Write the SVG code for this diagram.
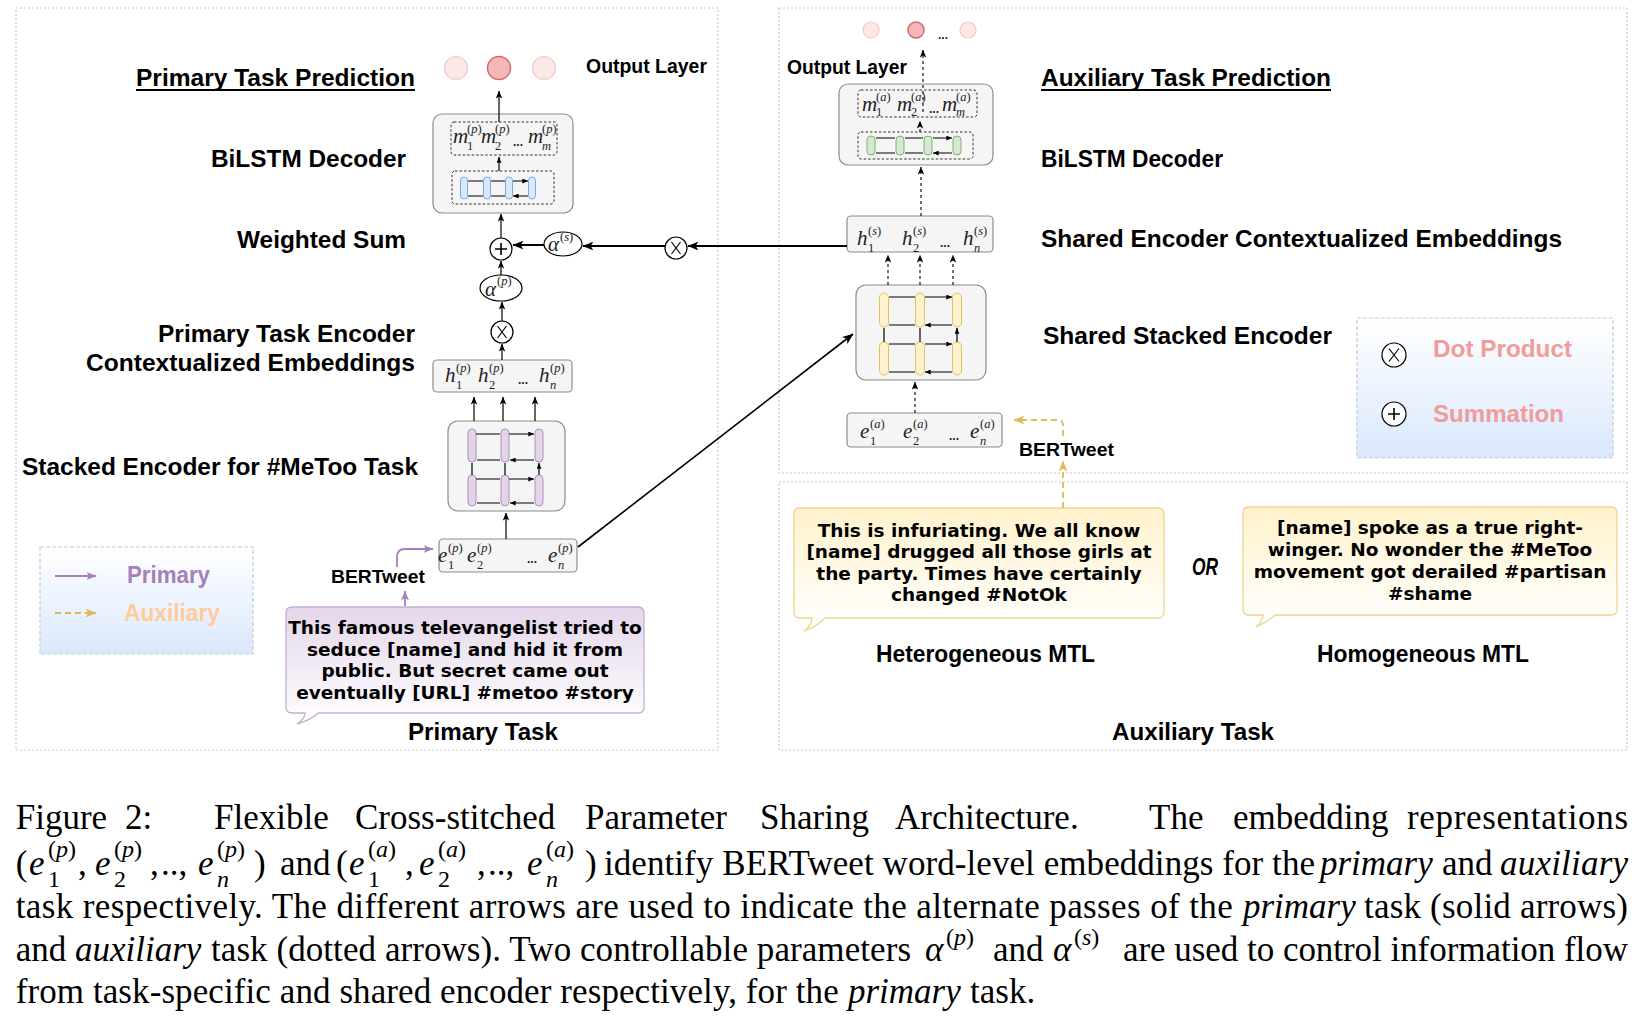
<svg xmlns="http://www.w3.org/2000/svg" width="1638" height="1034" viewBox="0 0 1638 1034">
<defs>
<style>
.lbl{font-family:"Liberation Sans",Arial,sans-serif;font-weight:bold;font-size:24px;fill:#000}
.ol{font-size:20px}
.bt{font-size:19px}
.tw{font-family:"DejaVu Sans",sans-serif;font-weight:bold;font-size:18.5px;text-anchor:middle;fill:#000}
.mv{font-family:"Liberation Serif",serif;font-style:italic;font-size:21px;fill:#222}
.ms{font-family:"Liberation Serif",serif;font-size:12.5px;fill:#222}
.dots{font-family:"Liberation Sans",sans-serif;font-weight:bold;font-size:12px;fill:#222}
.cap{font-family:"Liberation Serif","Times New Roman",serif;font-size:35px;fill:#000}
.ci{font-style:italic}
.cs{font-size:24px;font-style:normal}
.panel{fill:none;stroke:#c8c8c8;stroke-width:1.2;stroke-dasharray:2 2}
.box{fill:#f5f5f5;stroke:#8c8c8c;stroke-width:1.2}
.dbox{fill:none;stroke:#333;stroke-width:1;stroke-dasharray:2.5 2}
.cp{fill:#e1d5e7;stroke:#b08fc2;stroke-width:1}
.cb{fill:#dae8fc;stroke:#7ea6e0;stroke-width:1}
.cy{fill:#fff2cc;stroke:#e0c060;stroke-width:1}
.cg{fill:#d5e8d4;stroke:#82b366;stroke-width:1}
.ln{fill:none;stroke:#000;stroke-width:1.2}
.lnT{fill:none;stroke:#000;stroke-width:2}
.sm{fill:none;stroke:#000;stroke-width:1.2;marker-end:url(#as)}
.dl{fill:none;stroke:#000;stroke-width:1.1;stroke-dasharray:3 3}
.op{fill:#fff;stroke:#000;stroke-width:1.2}
.lt{fill:#fde8e8;stroke:#f6c6c6;stroke-width:1.2}
.dk{fill:#f4b6b6;stroke:#d46868;stroke-width:1.4}
</style>
<marker id="a" viewBox="0 0 10 8" refX="9.5" refY="4" markerWidth="8" markerHeight="6.4" orient="auto" markerUnits="userSpaceOnUse"><path d="M0,0 L10,4 L0,8 L2.5,4 z" fill="#000"/></marker>
<marker id="aL" viewBox="0 0 10 8" refX="9.5" refY="4" markerWidth="11" markerHeight="9" orient="auto" markerUnits="userSpaceOnUse"><path d="M0,0 L10,4 L0,8 L2.5,4 z" fill="#000"/></marker>
<marker id="as" viewBox="0 0 10 8" refX="9.5" refY="4" markerWidth="6" markerHeight="5" orient="auto" markerUnits="userSpaceOnUse"><path d="M0,0 L10,4 L0,8 z" fill="#000"/></marker>
<marker id="ap" viewBox="0 0 10 8" refX="9.5" refY="4" markerWidth="10" markerHeight="8" orient="auto" markerUnits="userSpaceOnUse"><path d="M0,0 L10,4 L0,8 L2.5,4 z" fill="#a680b8"/></marker>
<marker id="ay" viewBox="0 0 10 8" refX="9.5" refY="4" markerWidth="11" markerHeight="9" orient="auto" markerUnits="userSpaceOnUse"><path d="M0,0 L10,4 L0,8 L2.5,4 z" fill="#dcbb55"/></marker>
<linearGradient id="gp" x1="0" y1="0" x2="0" y2="1"><stop offset="0" stop-color="#e4d6ea"/><stop offset="1" stop-color="#ffffff"/></linearGradient>
<linearGradient id="gy" x1="0" y1="0" x2="0" y2="1"><stop offset="0" stop-color="#fff2cc"/><stop offset="1" stop-color="#ffffff"/></linearGradient>
<linearGradient id="gb" x1="0" y1="0" x2="0" y2="1"><stop offset="0" stop-color="#ffffff"/><stop offset="1" stop-color="#dae8fc"/></linearGradient>
</defs>
<rect width="1638" height="1034" fill="#fff"/>

<g id="panels">
<rect class="panel" x="16" y="8" width="702" height="742"/>
<rect class="panel" x="779" y="8" width="848" height="465"/>
<rect class="panel" x="779" y="482" width="848" height="268"/>
</g>

<g id="labels">
<text class="lbl" x="136" y="86" textLength="279" lengthAdjust="spacingAndGlyphs">Primary Task Prediction</text>
<line x1="136" y1="90" x2="415" y2="90" stroke="#000" stroke-width="2"/>
<text class="lbl ol" x="586" y="73" textLength="121" lengthAdjust="spacingAndGlyphs">Output Layer</text>
<text class="lbl" x="211" y="167" textLength="195" lengthAdjust="spacingAndGlyphs">BiLSTM Decoder</text>
<text class="lbl" x="237" y="248" textLength="169" lengthAdjust="spacingAndGlyphs">Weighted Sum</text>
<text class="lbl" x="158" y="342" textLength="257" lengthAdjust="spacingAndGlyphs">Primary Task Encoder</text>
<text class="lbl" x="86" y="371" textLength="329" lengthAdjust="spacingAndGlyphs">Contextualized Embeddings</text>
<text class="lbl" x="22" y="475" textLength="396" lengthAdjust="spacingAndGlyphs">Stacked Encoder for #MeToo Task</text>
<text class="lbl bt" x="331" y="583" textLength="94" lengthAdjust="spacingAndGlyphs">BERTweet</text>
<text class="lbl" x="408" y="740" textLength="150" lengthAdjust="spacingAndGlyphs">Primary Task</text>
<text class="lbl ol" x="787" y="74" textLength="120" lengthAdjust="spacingAndGlyphs">Output Layer</text>
<text class="lbl" x="1041" y="86" textLength="290" lengthAdjust="spacingAndGlyphs">Auxiliary Task Prediction</text>
<line x1="1041" y1="90" x2="1331" y2="90" stroke="#000" stroke-width="2"/>
<text class="lbl" x="1041" y="167" textLength="182" lengthAdjust="spacingAndGlyphs">BiLSTM Decoder</text>
<text class="lbl" x="1041" y="247" textLength="521" lengthAdjust="spacingAndGlyphs">Shared Encoder Contextualized Embeddings</text>
<text class="lbl" x="1043" y="344" textLength="289" lengthAdjust="spacingAndGlyphs">Shared Stacked Encoder</text>
<text class="lbl bt" x="1019" y="456" textLength="95" lengthAdjust="spacingAndGlyphs">BERTweet</text>
<text class="lbl" x="876" y="662" font-size="23" textLength="219" lengthAdjust="spacingAndGlyphs">Heterogeneous MTL</text>
<text class="lbl" x="1317" y="662" font-size="23" textLength="212" lengthAdjust="spacingAndGlyphs">Homogeneous MTL</text>
<text class="lbl" x="1112" y="740" textLength="162" lengthAdjust="spacingAndGlyphs">Auxiliary Task</text>
<text class="lbl" x="1192" y="575" font-size="19" font-style="italic" font-weight="normal" textLength="26" lengthAdjust="spacingAndGlyphs">OR</text>
</g>

<g id="output-primary">
<circle class="lt" cx="456" cy="68" r="11.5"/>
<circle class="dk" cx="499" cy="68" r="11.5"/>
<circle class="lt" cx="544" cy="68" r="11.5"/>
</g>
<g id="output-aux">
<circle class="lt" cx="871" cy="30" r="8"/>
<circle class="dk" cx="916" cy="30" r="8"/>
<circle class="lt" cx="968" cy="30" r="8"/>
<text class="dots" x="938" y="39" font-size="9">...</text>
</g>

<g id="decoder-primary">
<rect class="box" x="433" y="114" width="140" height="99" rx="9"/>
<rect class="dbox" x="451" y="122" width="106" height="33" rx="3"/>
<text class="mv" x="453" y="143" font-size="19">m</text><text class="ms" x="467" y="133">(<tspan font-style="italic">p</tspan>)</text><text class="ms" x="467" y="150">1</text>
<text class="mv" x="481" y="143" font-size="19">m</text><text class="ms" x="495" y="133">(<tspan font-style="italic">p</tspan>)</text><text class="ms" x="495" y="150">2</text>
<text class="dots" x="513" y="146">...</text>
<text class="mv" x="528" y="143" font-size="19">m</text><text class="ms" x="542" y="133">(<tspan font-style="italic">p</tspan>)</text><text class="ms" x="542" y="150" font-style="italic">m</text>
<rect class="dbox" x="452" y="171" width="102" height="33" rx="3"/>
<rect class="cb" x="460.5" y="177" width="7" height="22" rx="3.5"/>
<rect class="cb" x="483.5" y="177" width="7" height="22" rx="3.5"/>
<rect class="cb" x="505.5" y="177" width="7" height="22" rx="3.5"/>
<rect class="cb" x="528.5" y="177" width="7" height="22" rx="3.5"/>
<path class="sm" d="M468 181 H483 M491 181 H505 M513 181 H528"/>
<path class="sm" d="M483 196 H468 M505 196 H491 M528 196 H513"/>
<path class="sm" d="M499 171 V157"/>
</g>

<g id="primary-ctx">
<rect class="box" x="433" y="360" width="139" height="32" rx="4"/>
<text class="mv" x="445" y="382">h</text><text class="ms" x="456" y="372">(<tspan font-style="italic">p</tspan>)</text><text class="ms" x="456" y="389">1</text>
<text class="mv" x="478" y="382">h</text><text class="ms" x="489" y="372">(<tspan font-style="italic">p</tspan>)</text><text class="ms" x="489" y="389">2</text>
<text class="dots" x="518" y="384">...</text>
<text class="mv" x="539" y="382">h</text><text class="ms" x="550" y="372">(<tspan font-style="italic">p</tspan>)</text><text class="ms" x="550" y="389" font-style="italic">n</text>
</g>

<g id="primary-encoder">
<rect class="box" x="448" y="421" width="117" height="90" rx="10"/>
<rect class="cp" x="468" y="429" width="8" height="33" rx="4"/>
<rect class="cp" x="501" y="429" width="8" height="33" rx="4"/>
<rect class="cp" x="535" y="429" width="8" height="33" rx="4"/>
<rect class="cp" x="468" y="475" width="8" height="31" rx="4"/>
<rect class="cp" x="501" y="475" width="8" height="31" rx="4"/>
<rect class="cp" x="535" y="475" width="8" height="31" rx="4"/>
<path class="sm" d="M476 434 H500 M509 434 H534"/>
<path class="sm" d="M500 460 H477 M534 460 H510"/>
<path class="sm" d="M476 479 H500 M509 479 H534"/>
<path class="sm" d="M500 503 H477 M534 503 H510"/>
<path class="sm" d="M472 475 V463 M505 475 V463 M539 475 V463"/>
</g>

<g id="primary-emb">
<rect class="box" x="439" y="539" width="138" height="33" rx="4"/>
<text class="mv" x="438" y="562">e</text><text class="ms" x="448" y="552">(<tspan font-style="italic">p</tspan>)</text><text class="ms" x="448" y="569">1</text>
<text class="mv" x="467" y="562">e</text><text class="ms" x="477" y="552">(<tspan font-style="italic">p</tspan>)</text><text class="ms" x="477" y="569">2</text>
<text class="dots" x="527" y="563">...</text>
<text class="mv" x="548" y="562">e</text><text class="ms" x="558" y="552">(<tspan font-style="italic">p</tspan>)</text><text class="ms" x="558" y="569" font-style="italic">n</text>
</g>

<g id="ops-primary">
<circle class="op" cx="501" cy="249" r="11"/>
<path d="M495 249 H507 M501 243 V255" stroke="#000" stroke-width="1.6"/>
<ellipse class="op" cx="563" cy="244" rx="19" ry="12"/>
<text class="mv" x="548" y="251">α</text><text class="ms" x="560" y="241">(<tspan font-style="italic">s</tspan>)</text>
<circle class="op" cx="676" cy="248" r="11"/>
<path d="M671.5 242 L680.5 254 M680.5 242 L671.5 254" stroke="#000" stroke-width="1.2"/>
<ellipse class="op" cx="501" cy="288" rx="21" ry="13"/>
<text class="mv" x="485" y="296">α</text><text class="ms" x="497" y="285">(<tspan font-style="italic">p</tspan>)</text>
<circle class="op" cx="502" cy="332" r="11"/>
<path d="M497.5 326 L506.5 338 M506.5 326 L497.5 338" stroke="#000" stroke-width="1.2"/>
</g>

<g id="decoder-aux">
<rect class="box" x="839" y="84" width="154" height="81" rx="9"/>
<rect class="dbox" x="858" y="90" width="119" height="27" rx="3"/>
<text class="mv" x="862" y="111" font-size="19">m</text><text class="ms" x="876" y="101" font-size="11.5">(<tspan font-style="italic">a</tspan>)</text><text class="ms" x="876" y="116" font-size="11.5">1</text>
<text class="mv" x="897" y="111" font-size="19">m</text><text class="ms" x="911" y="101" font-size="11.5">(<tspan font-style="italic">a</tspan>)</text><text class="ms" x="911" y="116" font-size="11.5">2</text>
<text class="dots" x="929" y="113" font-size="9">...</text>
<text class="mv" x="942" y="111" font-size="19">m</text><text class="ms" x="956" y="101" font-size="11.5">(<tspan font-style="italic">a</tspan>)</text><text class="ms" x="956" y="116" font-size="11.5" font-style="italic">m</text>
<rect class="dbox" x="858" y="132" width="115" height="27" rx="3"/>
<rect class="cg" x="867" y="136" width="8" height="19" rx="4"/>
<rect class="cg" x="896" y="136" width="8" height="19" rx="4"/>
<rect class="cg" x="924" y="136" width="8" height="19" rx="4"/>
<rect class="cg" x="953" y="136" width="8" height="19" rx="4"/>
<path class="sm" d="M876 138 H895 M905 138 H923 M933 138 H952"/>
<path class="sm" d="M895 153 H876 M923 153 H905 M952 153 H933"/>
</g>

<g id="shared-ctx">
<rect class="box" x="847" y="216" width="146" height="36" rx="4"/>
<text class="mv" x="857" y="245">h</text><text class="ms" x="868" y="235">(<tspan font-style="italic">s</tspan>)</text><text class="ms" x="868" y="252">1</text>
<text class="mv" x="902" y="245">h</text><text class="ms" x="913" y="235">(<tspan font-style="italic">s</tspan>)</text><text class="ms" x="913" y="252">2</text>
<text class="dots" x="940" y="247">...</text>
<text class="mv" x="963" y="245">h</text><text class="ms" x="974" y="235">(<tspan font-style="italic">s</tspan>)</text><text class="ms" x="974" y="252" font-style="italic">n</text>
</g>

<g id="shared-encoder">
<rect class="box" x="856" y="285" width="130" height="95" rx="10"/>
<rect class="cy" x="879.5" y="293" width="9" height="34" rx="4.5"/>
<rect class="cy" x="915.5" y="293" width="9" height="34" rx="4.5"/>
<rect class="cy" x="952.5" y="293" width="9" height="34" rx="4.5"/>
<rect class="cy" x="879.5" y="342" width="9" height="33" rx="4.5"/>
<rect class="cy" x="915.5" y="342" width="9" height="33" rx="4.5"/>
<rect class="cy" x="952.5" y="342" width="9" height="33" rx="4.5"/>
<path class="sm" d="M889 297 H915 M925 297 H952"/>
<path class="sm" d="M915 325 H889 M952 325 H925"/>
<path class="sm" d="M889 344 H915 M925 344 H952"/>
<path class="sm" d="M915 372 H889 M952 372 H925"/>
<path class="sm" d="M884 342 V328 M920 342 V328 M957 342 V328"/>
</g>

<g id="aux-emb">
<rect class="box" x="847" y="413" width="155" height="34" rx="4"/>
<text class="mv" x="860" y="438">e</text><text class="ms" x="870" y="428">(<tspan font-style="italic">a</tspan>)</text><text class="ms" x="870" y="445">1</text>
<text class="mv" x="903" y="438">e</text><text class="ms" x="913" y="428">(<tspan font-style="italic">a</tspan>)</text><text class="ms" x="913" y="445">2</text>
<text class="dots" x="949" y="440">...</text>
<text class="mv" x="970" y="438">e</text><text class="ms" x="980" y="428">(<tspan font-style="italic">a</tspan>)</text><text class="ms" x="980" y="445" font-style="italic">n</text>
</g>

<g id="tweet-primary">
<path d="M292 607 H638 Q644 607 644 613 V707 Q644 713 638 713 H318 Q311 720 297 724 Q305 719 305 713 H292 Q286 713 286 707 V613 Q286 607 292 607 Z" fill="url(#gp)" stroke="#c6aed3" stroke-width="1.3"/>
<text class="tw" x="465" y="634">This famous televangelist tried to</text>
<text class="tw" x="465" y="656">seduce [name] and hid it from</text>
<text class="tw" x="465" y="677">public. But secret came out</text>
<text class="tw" x="465" y="699">eventually [URL] #metoo #story</text>
</g>

<g id="tweet-hetero">
<path d="M800 508 H1158 Q1164 508 1164 514 V612 Q1164 618 1158 618 H825 Q818 626 804 631 Q812 625 812 618 H800 Q794 618 794 612 V514 Q794 508 800 508 Z" fill="url(#gy)" stroke="#efd590" stroke-width="1.3"/>
<text class="tw" x="979" y="537">This is infuriating. We all know</text>
<text class="tw" x="979" y="558">[name] drugged all those girls at</text>
<text class="tw" x="979" y="580">the party. Times have certainly</text>
<text class="tw" x="979" y="601">changed #NotOk</text>
</g>

<g id="tweet-homo">
<path d="M1249 507 H1611 Q1617 507 1617 513 V609 Q1617 615 1611 615 H1275 Q1268 622 1256 627 Q1263 621 1263 615 H1249 Q1243 615 1243 609 V513 Q1243 507 1249 507 Z" fill="url(#gy)" stroke="#efd590" stroke-width="1.3"/>
<text class="tw" x="1430" y="534">[name] spoke as a true right-</text>
<text class="tw" x="1430" y="556">winger. No wonder the #MeToo</text>
<text class="tw" x="1430" y="578">movement got derailed #partisan</text>
<text class="tw" x="1430" y="600">#shame</text>
</g>

<g id="legend-arrows">
<rect x="40" y="547" width="213" height="107" fill="url(#gb)" stroke="#c5cedb" stroke-width="1.2" stroke-dasharray="4 2"/>
<line x1="55" y1="576" x2="96" y2="576" stroke="#a680b8" stroke-width="2" marker-end="url(#ap)"/>
<text class="lbl" x="127" y="583" font-size="22" style="fill:#a680b8" textLength="83" lengthAdjust="spacingAndGlyphs">Primary</text>
<line x1="55" y1="613" x2="96" y2="613" stroke="#dcbb55" stroke-width="2" stroke-dasharray="6 4" marker-end="url(#ay)"/>
<text class="lbl" x="124" y="621" font-size="22" style="fill:#ffcc99" textLength="96" lengthAdjust="spacingAndGlyphs">Auxiliary</text>
</g>

<g id="legend-ops">
<rect x="1357" y="318" width="256" height="140" fill="url(#gb)" stroke="#c5cedb" stroke-width="1.2" stroke-dasharray="4 2"/>
<circle class="op" cx="1394" cy="355" r="12"/>
<path d="M1389 348.5 L1399 361.5 M1399 348.5 L1389 361.5" stroke="#000" stroke-width="1.2"/>
<text class="lbl" x="1433" y="357" style="fill:#f19c99" textLength="139" lengthAdjust="spacingAndGlyphs">Dot Product</text>
<circle class="op" cx="1394" cy="414" r="12"/>
<path d="M1388 414 H1400 M1394 408 V420" stroke="#000" stroke-width="1.6"/>
<text class="lbl" x="1433" y="422" style="fill:#f19c99" textLength="131" lengthAdjust="spacingAndGlyphs">Summation</text>
</g>

<g id="connectors">
<path class="ln" d="M499 122 V91" marker-end="url(#a)"/>
<path class="ln" d="M501 238 V214" marker-end="url(#a)"/>
<path class="ln" d="M501 275 V261" marker-end="url(#a)"/>
<path class="ln" d="M502 321 V302" marker-end="url(#a)"/>
<path class="ln" d="M502 360 V344" marker-end="url(#a)"/>
<path class="ln" d="M474 421 V397" marker-end="url(#a)"/>
<path class="ln" d="M503 421 V397" marker-end="url(#a)"/>
<path class="ln" d="M535 421 V397" marker-end="url(#a)"/>
<path class="ln" d="M506 539 V513" marker-end="url(#a)"/>
<path class="lnT" d="M544 245 H513" marker-end="url(#aL)"/>
<path class="lnT" d="M665 246 H583" marker-end="url(#aL)"/>
<path class="lnT" d="M847 246 H688" marker-end="url(#aL)"/>
<path d="M578 547 L853 334" fill="none" stroke="#000" stroke-width="1.6" marker-end="url(#aL)"/>
<path d="M397 567 V557 Q397 549 405 549 H433" fill="none" stroke="#a680b8" stroke-width="1.8" marker-end="url(#ap)"/>
<path d="M405 606 V591" fill="none" stroke="#a680b8" stroke-width="1.8" marker-end="url(#ap)"/>
<path class="dl" d="M920 132 V121" marker-end="url(#a)"/>
<path class="dl" d="M923 112 V50" marker-end="url(#a)"/>
<path class="dl" d="M921 216 V167" marker-end="url(#a)"/>
<path class="dl" d="M888 285 V255" marker-end="url(#a)"/>
<path class="dl" d="M920 285 V255" marker-end="url(#a)"/>
<path class="dl" d="M953 285 V255" marker-end="url(#a)"/>
<path class="dl" d="M915 413 V382" marker-end="url(#a)"/>
<path d="M1063 436 V425 Q1063 420 1058 420 H1014" fill="none" stroke="#dcbb55" stroke-width="1.8" stroke-dasharray="6 4" marker-end="url(#ay)"/>
<path d="M1063 508 V461" fill="none" stroke="#dcbb55" stroke-width="1.8" stroke-dasharray="6 4" marker-end="url(#ay)"/>
</g>

<g id="caption">
<text class="cap" x="15.7" y="829">Figure</text>
<text class="cap" x="125" y="829">2:</text>
<text class="cap" x="214" y="829">Flexible</text>
<text class="cap" x="355" y="829">Cross-stitched</text>
<text class="cap" x="585" y="829">Parameter</text>
<text class="cap" x="760" y="829">Sharing</text>
<text class="cap" x="895" y="829">Architecture.</text>
<text class="cap" x="1149" y="829">The</text>
<text class="cap" x="1233" y="829">embedding</text>
<text class="cap" x="1407" y="829" textLength="221" lengthAdjust="spacing">representations</text>

<text class="cap"><tspan x="15.7" y="875">(</tspan><tspan x="29" y="875" class="ci">e</tspan><tspan x="48" y="857" class="cs">(<tspan class="ci">p</tspan>)</tspan><tspan x="48" y="887" class="cs">1</tspan><tspan x="78" y="875">,</tspan><tspan x="95" y="875" class="ci">e</tspan><tspan x="114" y="857" class="cs">(<tspan class="ci">p</tspan>)</tspan><tspan x="114" y="887" class="cs">2</tspan><tspan x="150" y="875">,</tspan><tspan x="161" y="875">..,</tspan><tspan x="198" y="875" class="ci">e</tspan><tspan x="217" y="857" class="cs">(<tspan class="ci">p</tspan>)</tspan><tspan x="217" y="887" class="cs ci" style="font-style:italic">n</tspan><tspan x="254" y="875">)</tspan></text>
<text class="cap" x="280" y="875">and</text>
<text class="cap"><tspan x="336" y="875">(</tspan><tspan x="349" y="875" class="ci">e</tspan><tspan x="368" y="857" class="cs">(<tspan class="ci">a</tspan>)</tspan><tspan x="368" y="887" class="cs">1</tspan><tspan x="405" y="875">,</tspan><tspan x="419" y="875" class="ci">e</tspan><tspan x="438" y="857" class="cs">(<tspan class="ci">a</tspan>)</tspan><tspan x="438" y="887" class="cs">2</tspan><tspan x="477" y="875">,</tspan><tspan x="488" y="875">..,</tspan><tspan x="527" y="875" class="ci">e</tspan><tspan x="546" y="857" class="cs">(<tspan class="ci">a</tspan>)</tspan><tspan x="546" y="887" class="cs" style="font-style:italic">n</tspan><tspan x="585" y="875">)</tspan></text>
<text class="cap" x="604" y="875" textLength="711" lengthAdjust="spacing">identify BERTweet word-level embeddings for the</text>
<text class="cap ci" x="1320" y="875">primary</text>
<text class="cap" x="1442" y="875">and</text>
<text class="cap ci" x="1500" y="875" textLength="128" lengthAdjust="spacing">auxiliary</text>

<text class="cap" x="15.7" y="918" textLength="1217" lengthAdjust="spacing">task respectively. The different arrows are used to indicate the alternate passes of the</text>
<text class="cap ci" x="1243" y="918">primary</text>
<text class="cap" x="1364" y="918" textLength="264" lengthAdjust="spacing">task (solid arrows)</text>

<text class="cap" x="15.7" y="961">and</text>
<text class="cap ci" x="75" y="961">auxiliary</text>
<text class="cap" x="211" y="961" textLength="700" lengthAdjust="spacing">task (dotted arrows). Two controllable parameters</text>
<text class="cap"><tspan x="925" y="961" class="ci">α</tspan><tspan x="946" y="945" class="cs">(<tspan class="ci">p</tspan>)</tspan></text>
<text class="cap" x="993" y="961">and</text>
<text class="cap"><tspan x="1053" y="961" class="ci">α</tspan><tspan x="1074" y="945" class="cs">(<tspan class="ci">s</tspan>)</tspan></text>
<text class="cap" x="1123" y="961" textLength="505" lengthAdjust="spacing">are used to control information flow</text>

<text class="cap" x="15.7" y="1003" textLength="823" lengthAdjust="spacing">from task-specific and shared encoder respectively, for the</text>
<text class="cap ci" x="848" y="1003">primary</text>
<text class="cap" x="970" y="1003">task.</text>
</g>
</svg>
